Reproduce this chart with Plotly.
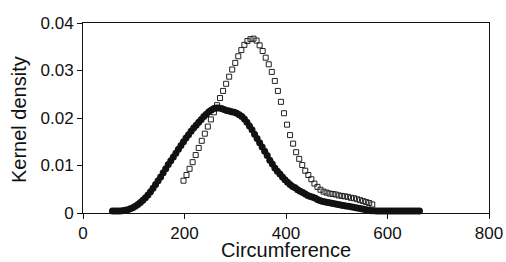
import plotly.graph_objects as go

# Open squares series
sq_x = [198, 204, 210, 216, 222, 228, 234, 240, 246, 252, 258, 264, 270, 276, 282,
        288, 294, 300, 306, 312, 318, 324, 330, 336, 342, 348, 354, 360, 366, 372,
        378, 384, 390, 396, 402, 408, 414, 420, 426, 432, 438, 444, 450, 456, 462,
        468, 474, 480, 486, 492, 498, 504, 510, 516, 522, 528, 534, 540, 546, 552,
        558, 564, 570]
sq_y = [0.0068, 0.0080, 0.0093, 0.0107, 0.0122, 0.0137, 0.0152, 0.0167, 0.0182, 0.0197,
        0.0212, 0.0227, 0.0242, 0.0257, 0.0272, 0.0287, 0.0302, 0.0316, 0.0330, 0.0343,
        0.0354, 0.0362, 0.0366, 0.0367, 0.0363, 0.0353, 0.0341, 0.0327, 0.0313, 0.0297,
        0.0278, 0.0257, 0.0234, 0.0210, 0.0186, 0.0164, 0.0146, 0.0128, 0.0114, 0.0101,
        0.0089, 0.0080, 0.0071, 0.0062, 0.0055, 0.0049, 0.0045, 0.0043, 0.0041, 0.0040,
        0.0039, 0.0037, 0.0036, 0.0035, 0.0034, 0.0032, 0.0031, 0.0029, 0.0027, 0.0025,
        0.0023, 0.0021, 0.0018]

# Filled circles series
fc_x = [58, 63, 68, 73, 78, 83, 88, 93, 98, 103, 108, 113, 118, 123, 128, 133, 138, 143,
        148, 153, 158, 163, 168, 173, 178, 183, 188, 193, 198, 203, 208, 213, 218, 223,
        228, 233, 238, 243, 248, 253, 258, 263, 268, 273, 278, 283, 288, 293, 298, 303,
        308, 313, 318, 323, 328, 333, 338, 343, 348, 353, 358, 363, 368, 373, 378, 383,
        388, 393, 398, 403, 408, 413, 418, 423, 428, 433, 438, 443, 448, 453, 458, 463,
        468, 473, 478, 483, 488, 493, 498, 503, 508, 513, 518, 523, 528, 533, 538, 543,
        548, 553, 558, 563, 568, 573, 578, 583, 588, 593, 598, 603, 608, 613, 618, 623,
        628, 633, 638, 643, 648, 653, 658, 663]
fc_y = [0.0004, 0.0004, 0.0004, 0.0004, 0.0005, 0.0006, 0.0007, 0.0009, 0.0011, 0.0014,
        0.0018, 0.0022, 0.0027, 0.0032, 0.0038, 0.0045, 0.0052, 0.0060, 0.0068, 0.0076,
        0.0085, 0.0093, 0.0102, 0.0110, 0.0118, 0.0126, 0.0134, 0.0142, 0.0150, 0.0158,
        0.0165, 0.0172, 0.0179, 0.0185, 0.0191, 0.0197, 0.0203, 0.0208, 0.0213, 0.0217,
        0.0220, 0.0221, 0.0221, 0.0220, 0.0218, 0.0216, 0.0215, 0.0213, 0.0212, 0.0210,
        0.0207, 0.0203, 0.0198, 0.0191, 0.0183, 0.0175, 0.0166, 0.0157, 0.0148, 0.0139,
        0.0130, 0.0121, 0.0111, 0.0103, 0.0095, 0.0088, 0.0082, 0.0076, 0.0070, 0.0065,
        0.0060, 0.0056, 0.0053, 0.0049, 0.0046, 0.0043, 0.0040, 0.0037, 0.0035, 0.0033,
        0.0031, 0.0028, 0.0026, 0.0024, 0.0023, 0.0022, 0.0021, 0.0020, 0.0019, 0.0018,
        0.0017, 0.0016, 0.0015, 0.0014, 0.0013, 0.0012, 0.0011, 0.0010, 0.0009, 0.0008,
        0.0007, 0.0006, 0.0005, 0.0005, 0.0004, 0.0004, 0.0004, 0.0004, 0.0004, 0.0004,
        0.0004, 0.0004, 0.0004, 0.0004, 0.0004, 0.0004, 0.0004, 0.0004, 0.0004, 0.0004,
        0.0004, 0.0004]

x_ticks = [0, 200, 400, 600, 800]
y_ticks = [0, 0.01, 0.02, 0.03, 0.04]
y_tick_labels = ["0", "0.01", "0.02", "0.03", "0.04"]
x_title = "Circumference"
y_title = "Kernel density"

fig = go.Figure()
fig.add_trace(go.Scatter(
    x=sq_x, y=sq_y, mode="markers",
    marker=dict(symbol="square-open", size=5, color="#222", line=dict(width=1, color="#222")),
    showlegend=False, cliponaxis=False))
fig.add_trace(go.Scatter(
    x=fc_x, y=fc_y, mode="markers",
    marker=dict(symbol="circle", size=7, color="#111", line=dict(width=0)),
    showlegend=False, cliponaxis=False))

font = "Liberation Sans, Arial, Helvetica, sans-serif"
fig.update_layout(
    width=506, height=262,
    margin=dict(l=83, r=17, t=23, b=49, autoexpand=False),
    paper_bgcolor="white", plot_bgcolor="white",
    font=dict(family=font, color="#111", size=17),
    annotations=[
        dict(text=x_title, xref="paper", yref="paper", x=0.5, y=0,
             xanchor="center", yanchor="middle", yshift=-37, showarrow=False,
             borderpad=0, font=dict(size=20, color="#111")),
        dict(text=y_title, xref="paper", yref="paper", x=0, y=0.5,
             xanchor="center", yanchor="middle", xshift=-64, yshift=-2,
             borderpad=0, textangle=-90, showarrow=False,
             font=dict(size=20, color="#111")),
    ],
)
fig.update_xaxes(
    range=[0, 800], tickvals=x_ticks, ticktext=[str(v) for v in x_ticks],
    showgrid=False, zeroline=False, showline=True, linecolor="#111", linewidth=1,
    mirror=True, ticks="outside", ticklen=5, tickcolor="#111",
    tickfont=dict(size=17), automargin=False,
)
fig.update_yaxes(
    range=[0, 0.04], tickvals=y_ticks, ticktext=y_tick_labels,
    showgrid=False, zeroline=False, showline=True, linecolor="#111", linewidth=1,
    mirror=True, ticks="outside", ticklen=5, tickcolor="#111",
    tickfont=dict(size=17), automargin=False,
)

fig.write_html(
    "out.html",
    config={"displayModeBar": False},
    post_script="document.body.style.margin='0';document.body.style.overflow='hidden';",
)
